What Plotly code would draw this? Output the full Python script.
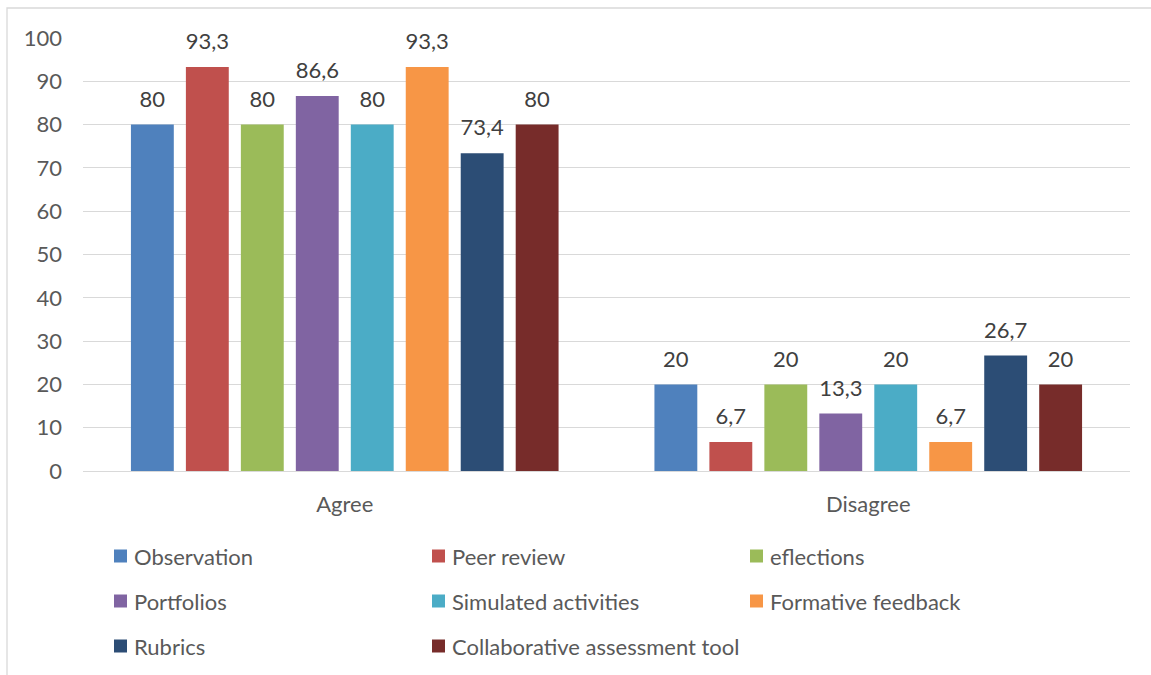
import plotly.graph_objects as go

categories = ["Agree", "Disagree"]
series_names = [
    "Observation", "Peer review", "eflections", "Portfolios",
    "Simulated activities", "Formative feedback", "Rubrics",
    "Collaborative assessment tool",
]
agree = [80, 93.3, 80, 86.6, 80, 93.3, 73.4, 80]
disagree = [20, 6.7, 20, 13.3, 20, 6.7, 26.7, 20]
colors = ["#4F81BD", "#C0504D", "#9BBB59", "#8064A2",
          "#4BACC6", "#F79646", "#2C4D75", "#772C2A"]

FONT = "Lato, Open Sans, sans-serif"
TEXT = "#595959"
LABEL = "#404040"
FS = 22
BARGAP = 0.16

fig = go.Figure()
for i, (name, a, d, c) in enumerate(zip(series_names, agree, disagree, colors)):
    vals = [a, d]
    fig.add_trace(go.Bar(
        name=name, x=categories, y=vals, marker_color=c,
        marker_line_width=0, offsetgroup=str(i), showlegend=False,
    ))
    # value labels, grouped the same way as the bars
    fig.add_trace(go.Scatter(
        x=categories, y=vals, mode="markers+text", offsetgroup=str(i),
        text=[f"{v:g}".replace(".", ",") for v in vals],
        textposition="top center", cliponaxis=False,
        marker=dict(size=18, opacity=0), hoverinfo="skip", showlegend=False,
        textfont=dict(size=FS, color=LABEL, family=FONT),
    ))

# legend: three columns of colour swatches with series names
col_px = [114, 432, 750]
row_px = [556, 601, 646]
L, R, T, B = 83, 21, 38, 204
pw, ph = 1151 - L - R, 675 - T - B
for i, (name, c) in enumerate(zip(series_names, colors)):
    x0 = (col_px[i % 3] - L) / pw
    yc = (675 - B - row_px[i // 3]) / ph
    sw = 13 / pw
    sh = 13 / ph
    fig.add_shape(type="rect", xref="paper", yref="paper",
                  x0=x0, x1=x0 + sw, y0=yc - sh / 2, y1=yc + sh / 2,
                  fillcolor=c, line_width=0)
    fig.add_annotation(xref="paper", yref="paper", x=x0 + 18 / pw, y=yc,
                       xanchor="left", yanchor="middle", showarrow=False,
                       text=name, font=dict(size=FS, color=TEXT, family=FONT))

fig.update_layout(
    width=1151, height=675,
    margin=dict(l=L, r=R, t=T, b=B),
    paper_bgcolor="white", plot_bgcolor="white",
    barmode="group", bargap=BARGAP, bargroupgap=0.22,
    scattermode="group", scattergap=BARGAP,
    font=dict(family=FONT, size=FS, color=TEXT),
    showlegend=False,
)
fig.update_yaxes(range=[0, 100], dtick=10, showgrid=True, gridcolor="#D9D9D9",
                 gridwidth=1.3, zeroline=False, showline=False, ticks="",
                 tickfont=dict(size=FS, color=TEXT), ticklabelstandoff=20)
fig.update_xaxes(showline=True, linecolor="#D9D9D9", linewidth=1.3, ticks="",
                 tickfont=dict(size=FS, color=TEXT), ticklabelstandoff=13)

# outer chart border (left and top edges)
fig.add_shape(type="rect", xref="paper", yref="paper",
              x0=-76 / pw, x1=1.05, y0=-0.5, y1=(675 - B - 8) / ph,
              line=dict(color="#D9D9D9", width=1.3), fillcolor="rgba(0,0,0,0)",
              layer="below")

fig.write_html("out.html")
